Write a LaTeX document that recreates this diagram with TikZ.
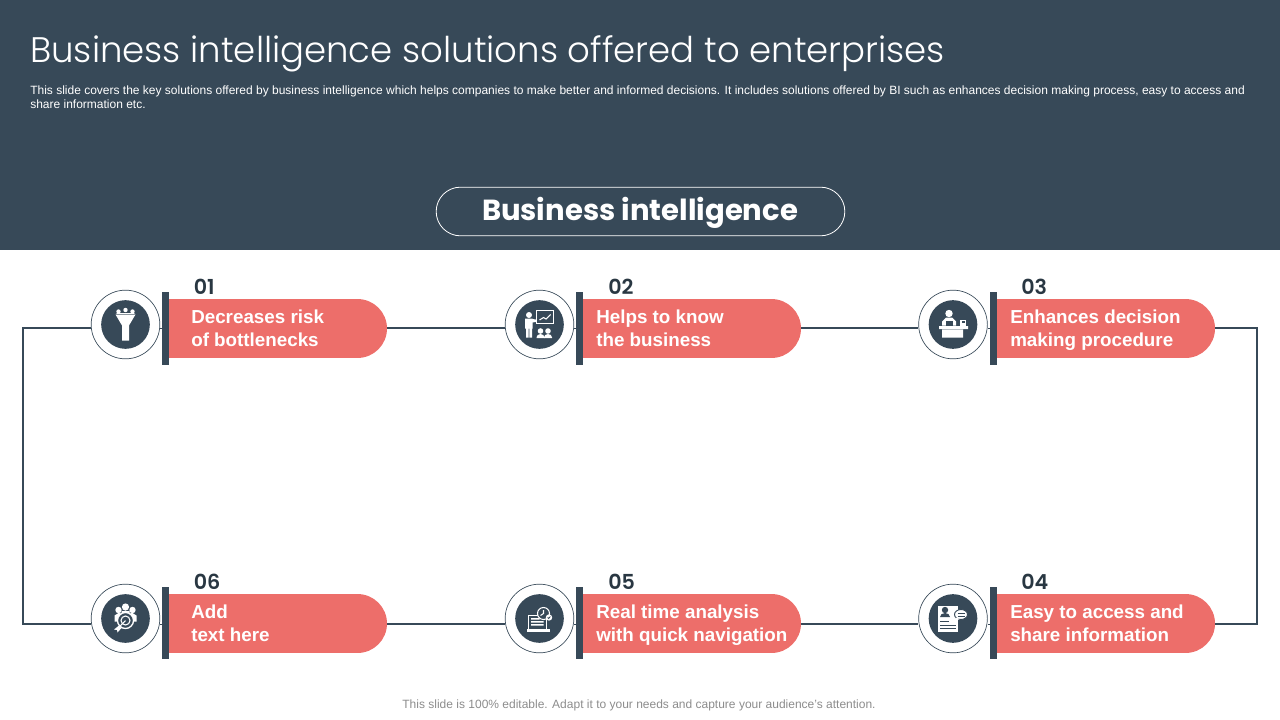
\documentclass[tikz,border=0pt]{standalone}
\usepackage{fontspec}
\setmainfont{Liberation Sans}
\newfontfamily\headfont{Poppins}
\newfontfamily\titlefont{Poppins Light}
\newfontfamily\numfont{Poppins SemiBold}
\usetikzlibrary{shapes.misc}
\usetikzlibrary{calc}
\definecolor{slate}{HTML}{374958}
\definecolor{salmon}{HTML}{ED6E6A}
\newcommand{\twolines}[2]{\strut #1\\\strut #2}

\begin{document}
\begin{tikzpicture}[x=0.75pt,y=-0.75pt,
	wire/.style={draw=slate,line width=1.9pt},
	hubring/.style={draw=slate,fill=white,shape=circle,line width=0.5pt,minimum size=51.5pt,inner sep=0pt},
	hubdisc/.style={fill=slate,shape=circle,minimum size=36.5pt,inner sep=0pt},
	tabbar/.style={fill=slate,minimum width=5.2pt,minimum height=54.5pt,inner sep=0pt},
	pill/.style={fill=salmon,shape=rounded rectangle,rounded rectangle left arc=none,rounded rectangle arc length=180,minimum width=163.5pt,minimum height=44.2pt,inner sep=0pt},
	pilltext/.style={anchor=west,text=white,align=left,inner sep=0pt,font=\fontsize{14.1}{17.6}\selectfont\bfseries},
	numtext/.style={anchor=west,text=slate!75!black,inner sep=0pt,font=\numfont\fontsize{15.5}{18}\selectfont},
	icon/.style={fill=white,draw=none},
	iconcut/.style={fill=slate,draw=none},
	iconline/.style={draw=white,line width=0.8pt},
	cutline/.style={draw=slate,line width=0.6pt}]
	\useasboundingbox (0,0) rectangle (1280,720);
	\fill[slate] (0,0) rectangle (1280,250);

	\node (title) [anchor=west,text=white,inner sep=0pt,font=\titlefont\fontsize{26.63}{30}\selectfont] at (30,54) {Business intelligence solutions offered to enterprises};
	\node (intro) [anchor=north west,text=white,align=left,inner sep=0pt,font=\fontsize{9}{10.4}\selectfont] at (30,85.5) {This slide covers the key solutions offered by business intelligence which helps companies to make better and informed decisions. It includes solutions offered by BI such as enhances decision making process, easy to access and\\share information etc.};
	\node (banner) [draw=white,line width=0.6pt,shape=rounded rectangle,minimum width=306.5pt,minimum height=36.5pt,inner sep=0pt] at (640.5,211.5) {};
	\node (bannertext) [text=white,inner sep=0pt,font=\headfont\fontsize{21.8}{26}\selectfont\bfseries] at (640,213) {Business intelligence};
	\node (note) [text=gray!90,inner sep=0pt,font=\fontsize{9}{11}\selectfont] at (639,705) {This slide is 100\% editable. Adapt it to your needs and capture your audience's attention.};

	\node (pillA) [pill] at (278,328.5) {};
	\node (pillB) [pill] at (692,328.5) {};
	\node (pillC) [pill] at (1106,328.5) {};
	\node (pillD) [pill] at (1106,623.5) {};
	\node (pillE) [pill] at (692,623.5) {};
	\node (pillF) [pill] at (278,623.5) {};

	\node (hubA) [hubring] at (125.5,324.5) {};
	\node (hubB) [hubring] at (539.5,324.5) {};
	\node (hubC) [hubring] at (953,324.5) {};
	\node (hubD) [hubring] at (953,618.5) {};
	\node (hubE) [hubring] at (539.5,618.5) {};
	\node (hubF) [hubring] at (125.5,618.5) {};

	\node (tabA) [tabbar] at (165.5,328.5) {};
	\node (tabB) [tabbar] at (579.5,328.5) {};
	\node (tabC) [tabbar] at (993.5,328.5) {};
	\node (tabD) [tabbar] at (993.5,623) {};
	\node (tabE) [tabbar] at (579.5,623) {};
	\node (tabF) [tabbar] at (165.5,623) {};

	\coordinate (railTL) at (23,328);
	\coordinate (railBL) at (23,624);
	\coordinate (railTR) at (1257,328);
	\coordinate (railBR) at (1257,624);

	\draw[wire] (hubA.west |- railTL) -- (railTL) -- (railBL) -- (hubF.west |- railBL);
	\draw[wire] (pillC.east |- railTR) -- (railTR) -- (railBR) -- (pillD.east |- railBR);
	\draw[wire] (pillA.east |- railTL) -- (hubB.west |- railTL);
	\draw[wire] (pillB.east |- railTL) -- (hubC.west |- railTL);
	\draw[wire] (pillE.east |- railBL) -- (hubD.west |- railBL);
	\draw[wire] (pillF.east |- railBL) -- (hubE.west |- railBL);
	\draw[cutline] (hubA.east |- railTL) -- (tabA.west |- railTL);
	\draw[cutline] (hubB.east |- railTL) -- (tabB.west |- railTL);
	\draw[cutline] (hubC.east |- railTL) -- (tabC.west |- railTL);
	\draw[cutline] (hubD.east |- railBL) -- (tabD.west |- railBL);
	\draw[cutline] (hubE.east |- railBL) -- (tabE.west |- railBL);
	\draw[cutline] (hubF.east |- railBL) -- (tabF.west |- railBL);

	\node (discA) [hubdisc] at (hubA) {};
	\node (discB) [hubdisc] at (hubB) {};
	\node (discC) [hubdisc] at (hubC) {};
	\node (discD) [hubdisc] at (hubD) {};
	\node (discE) [hubdisc] at (hubE) {};
	\node (discF) [hubdisc] at (hubF) {};

	\node (numA) [numtext] at (193.5,287) {01};
	\node (numB) [numtext] at (608,287) {02};
	\node (numC) [numtext] at (1021,287) {03};
	\node (numD) [numtext] at (1021,582) {04};
	\node (numE) [numtext] at (608,582) {05};
	\node (numF) [numtext] at (193.5,582) {06};

	\node (textA) [pilltext] at (191,330.5) {\twolines{Decreases risk}{of bottlenecks}};
	\node (textB) [pilltext] at (596,330.5) {\twolines{Helps to know}{the business}};
	\node (textC) [pilltext] at (1010,330.5) {\twolines{Enhances decision}{making procedure}};
	\node (textD) [pilltext] at (1010,625.5) {\twolines{Easy to access and}{share information}};
	\node (textE) [pilltext] at (596,625.5) {\twolines{Real time analysis}{with quick navigation}};
	\node (textF) [pilltext] at (191,625.5) {\twolines{Add}{text here}};

	\begin{scope}[shift={(discA)}]
		\fill[icon] (-10,-10) -- (10,-10) -- (3.5,1) -- (3.5,16) -- (-3.5,16) -- (-3.5,1) -- cycle;
		\fill[icon] (-7,-13) circle (2.2) (0,-14.5) circle (2.2) (7,-13) circle (2.2);
		\fill[icon] (-10,-10.5) -- (-8,-11.5) -- (8,-11.5) -- (10,-10.5) -- cycle;
	\end{scope}
	\begin{scope}[shift={(discB)}]
		\fill[icon] (-10.5,-9.5) circle (3);
		\fill[icon] (-14.5,-6) rectangle (-7,4) (-13.5,4) rectangle (-10.8,13) (-10.2,4) rectangle (-7.5,13) (-7,-5.5) -- (-1,-4.5) -- (-1,-3) -- (-7,-2) -- cycle;
		\draw[iconline,fill=slate,line width=1pt] (-3,-14) rectangle (14,-1);
		\draw[iconline] (0,-4.5) -- (4,-7) -- (6.5,-5.5) -- (11,-10);
		\fill[icon] (1,6.5) circle (2.8) (8.5,6.5) circle (2.8);
		\fill[icon] (-3,13.5) -- (-3,13) arc[start angle=180,end angle=360,x radius=4,y radius=3.5] -- (5,13.5) -- cycle;
		\fill[icon] (4.5,13.5) -- (4.5,13) arc[start angle=180,end angle=360,x radius=4,y radius=3.5] -- (12.5,13.5) -- cycle;
	\end{scope}
	\begin{scope}[shift={(discC)}]
		\fill[icon] (-4,-11) circle (3.7);
		\fill[icon] (-11,1) -- (-11,-3) -- (-7,-7) -- (-1,-7) -- (3,-3) -- (3,1) -- cycle;
		\fill[iconcut] (-7.5,-4) rectangle (-0.5,1);
		\fill[icon] (-14,1.5) rectangle (15,4.5) (-11,5) rectangle (10,13);
		\fill[icon] (7,-5) rectangle (13,1);
		\fill[iconcut] (8.5,-3.5) rectangle (11.5,-1.5);
	\end{scope}
	\begin{scope}[shift={(discD)}]
		\fill[icon] (-15,-13) rectangle (5,13);
		\fill[iconcut] (-8,-8.5) circle (3.2);
		\fill[iconcut] (-13,-1.5) -- (-13,-1.5) arc[start angle=180,end angle=360,x radius=5,y radius=4] -- cycle;
		\draw[cutline] (-13,3) -- (-4,3) (-13,6.5) -- (3,6.5) (-13,10) -- (3,10);
		\draw[cutline,fill=white,line width=0.7pt] (8,-4) ellipse (6.5 and 5);
		\draw[cutline] (4.5,-5.5) -- (11.5,-5.5) (4.5,-2.5) -- (11.5,-2.5);
		\fill[icon] (3.5,-1) -- (2,3) -- (6.5,0.5) -- cycle;
	\end{scope}
	\begin{scope}[shift={(discE)}]
		\draw[iconline] (-11,10) -- (-11,-3) -- (7,-3) -- (7,10);
		\fill[icon] (-8.5,-0.5) rectangle (0,1) (-8.5,2.5) rectangle (4,4) (-8.5,5.5) rectangle (4,7);
		\fill[icon] (-13,10.5) rectangle (10,13);
		\draw[iconline,fill=slate] (4,-5) circle (6);
		\draw[iconline] (4,-8.5) -- (4,-5) -- (1,-3);
		\draw[iconline,fill=white] (9.5,-1) circle (2.6);
		\draw[cutline] (8.2,-1) -- (9.2,0) -- (10.8,-2);
	\end{scope}
	\begin{scope}[shift={(discF)}]
		\fill[icon] (-7,-8.5) circle (3.2) (7,-8.5) circle (3.2) (0,-11.5) circle (3.6);
		\fill[icon] (-11,3) -- (-11,-3) -- (-7,-5.5) -- (-4,-5) -- (-4,-7.5) -- (4,-7.5) -- (4,-5) -- (7,-5.5) -- (11,-3) -- (11,3) -- cycle;
		\draw[iconline,fill=slate,line width=1pt] (0,2) circle (8);
		\draw[iconline] (0,2) circle (4.5);
		\fill[icon] (-11.5,11) -- (-6.5,7) -- (-4,9.5) -- (-8,14) -- (-8.5,11.5) -- cycle;
		\draw[iconline] (-6,8) -- (0,2);
	\end{scope}
\end{tikzpicture}
\end{document}
